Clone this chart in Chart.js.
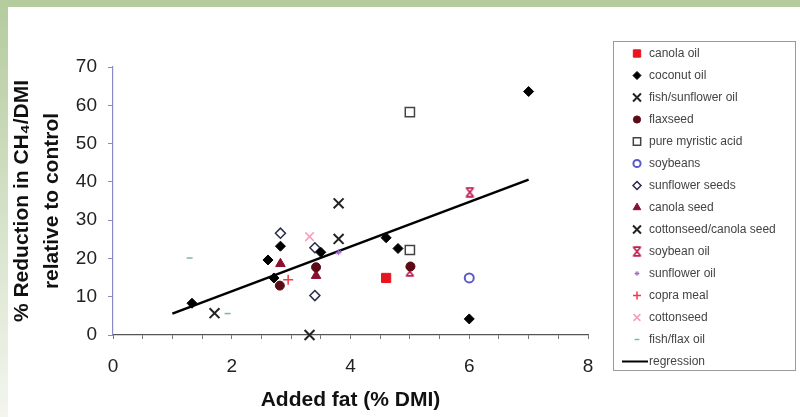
<!DOCTYPE html>
<html>
<head>
<meta charset="utf-8">
<script src="https://cdn.jsdelivr.net/npm/chart.js@4/dist/chart.umd.min.js"></script>
<style>
html, body { margin: 0; padding: 0; background: #fff; }
#wrap { position: relative; width: 800px; height: 417px; overflow: hidden; background: #fff; }
#topBar { position: absolute; left: 0; top: 0; width: 800px; height: 7px; background: #b4cb9d; }
#leftBar { position: absolute; left: 0; top: 0; width: 8px; height: 417px; background: linear-gradient(#b4cb9d, #dbe5cf 60%, #f3f5ef); }
canvas { position: absolute; left: 0; top: 0; }
</style>
</head>
<body>
<div id="wrap">
  <div id="topBar"></div>
  <div id="leftBar"></div>
  <canvas id="chart" width="800" height="417"></canvas>
</div>
<script>
// points, [added fat %DMI, % reduction]
const canolaOil = [[4.6, 14.9]];
const coconutOil = [[1.33, 8.3], [2.61, 19.6], [2.71, 14.9], [2.82, 23.2], [3.5, 21.6], [4.6, 25.4], [4.8, 22.6], [6.0, 4.2], [7.0, 63.6]];
const fishSunflowerOil = [[1.71, 5.7], [3.8, 34.4], [3.8, 25.1]];
const flaxseed = [[2.81, 12.9], [3.42, 17.7], [5.01, 17.9]];
const pureMyristicAcid = [[5.0, 58.2], [5.0, 22.2]];
const soybeans = [[6.0, 14.9]];
const sunflowerSeeds = [[2.82, 26.6], [3.4, 22.8], [3.4, 10.3]];
const canolaSeed = [[2.82, 18.6], [3.42, 15.5]];
const cottonseedCanolaSeed = [[3.31, 0]];
const soybeanOil = [[6.01, 37.3], [5.0, 16.6]];
const sunflowerOil = [[3.8, 21.6]];
const copraMeal = [[2.95, 14.4]];
const cottonseed = [[3.31, 25.7]];
const fishFlaxOil = [[1.93, 5.6], [1.29, 20.1]];
// regression line ends
const regressionX = [1, 7];
const regressionY = [5.6, 40.6];
const xTickLabels = [0, 2, 4, 6, 8];

const FONT = '"Liberation Sans", Arial, sans-serif';
Chart.defaults.font.family = FONT;

function pts(arr) {
  return arr.map(p => ({ x: p[0], y: p[1] }));
}

// X marker with bars top and bottom (soybean oil)
function barCross(color) {
  const c = document.createElement('canvas');
  c.width = 11; c.height = 11;
  const g = c.getContext('2d');
  g.strokeStyle = color;
  g.lineWidth = 1.8;
  g.beginPath();
  g.moveTo(1.5, 1.2); g.lineTo(9.5, 1.2);
  g.moveTo(1.5, 9.8); g.lineTo(9.5, 9.8);
  g.moveTo(2.2, 1.5); g.lineTo(8.8, 9.5);
  g.moveTo(8.8, 1.5); g.lineTo(2.2, 9.5);
  g.stroke();
  return c;
}

function series(label, data, style, radius, fill, border, bw) {
  return {
    label: label,
    data: pts(data),
    pointStyle: style,
    pointRadius: radius,
    pointHoverRadius: radius,
    pointBackgroundColor: fill,
    pointBorderColor: border,
    pointBorderWidth: bw,
    backgroundColor: fill,
    borderColor: border,
    clip: false
  };
}

const datasets = [
  series('canola oil', canolaOil, 'rect', 6.5, '#e8141e', '#e8141e', 1),
  series('coconut oil', coconutOil, 'rectRot', 5, '#000', '#000', 1),
  series('fish/sunflower oil', fishSunflowerOil, 'crossRot', 7, '#222', '#222', 2),
  series('flaxseed', flaxseed, 'circle', 4.5, '#5c0a14', '#5c0a14', 1),
  series('pure myristic acid', pureMyristicAcid, 'rect', 6.5, '#fff', '#444', 1.5),
  series('soybeans', soybeans, 'circle', 4.5, '#fff', '#5a5ac8', 2),
  series('sunflower seeds', sunflowerSeeds, 'rectRot', 5, '#fff', '#2a2a4a', 1.5),
  series('canola seed', canolaSeed, 'triangle', 5.5, '#8a1030', '#8a1030', 1),
  series('cottonseed/canola seed', cottonseedCanolaSeed, 'crossRot', 7, '#222', '#222', 2),
  series('soybean oil', soybeanOil, barCross('#c02050'), 5, '#c02050', '#c02050', 1),
  series('sunflower oil', sunflowerOil, 'star', 3, '#9a6ac8', '#9a6ac8', 1),
  series('copra meal', copraMeal, 'cross', 5, '#f03a4a', '#f03a4a', 1.5),
  series('cottonseed', cottonseed, 'crossRot', 6, '#f4a0b8', '#f4a0b8', 1.5),
  series('fish/flax oil', fishFlaxOil, 'line', 3, '#9cc8c8', '#7ab4b4', 1.5),
  {
    label: 'regression',
    data: regressionX.map((x, i) => ({ x: x, y: regressionY[i] })),
    showLine: true,
    borderColor: '#000',
    backgroundColor: '#000',
    borderWidth: 2.5,
    pointRadius: 0,
    pointHoverRadius: 0,
    clip: false
  }
];

// legend box drawn by hand on the right
const boxLegend = {
  id: 'boxLegend',
  afterDraw(chart) {
    const ctx = chart.ctx;
    ctx.save();
    ctx.strokeStyle = '#9a9a9a';
    ctx.lineWidth = 1;
    ctx.strokeRect(613.5, 41.5, 182, 329);
    ctx.font = '12px ' + FONT;
    ctx.textBaseline = 'middle';
    chart.data.datasets.forEach((ds, i) => {
      const y = 53.5 + i * 22;
      if (ds.showLine) {
        ctx.strokeStyle = ds.borderColor;
        ctx.lineWidth = 2;
        ctx.beginPath();
        ctx.moveTo(622, y);
        ctx.lineTo(648, y);
        ctx.stroke();
      } else {
        ctx.fillStyle = ds.pointBackgroundColor;
        ctx.strokeStyle = ds.pointBorderColor;
        ctx.lineWidth = ds.pointBorderWidth;
        Chart.helpers.drawPoint(ctx, {
          pointStyle: ds.pointStyle,
          radius: ds.pointRadius * 0.8,
          borderWidth: ds.pointBorderWidth,
          rotation: 0
        }, 637, y);
      }
      ctx.fillStyle = '#444';
      ctx.fillText(ds.label, 649, y);
    });
    ctx.restore();
  }
};

new Chart(document.getElementById('chart'), {
  type: 'scatter',
  data: { datasets: datasets },
  plugins: [boxLegend],
  options: {
    responsive: false,
    animation: false,
    devicePixelRatio: 1,
    layout: { padding: { left: 8, right: 212, top: 67, bottom: 0 } },
    plugins: {
      legend: { display: false },
      tooltip: { enabled: false }
    },
    scales: {
      x: {
        type: 'linear',
        min: 0,
        max: 8,
        afterFit(scale) { scale.height = 82; },
        border: { color: '#555', width: 1.2 },
        grid: { drawOnChartArea: false, drawTicks: true, tickLength: 4, color: '#777' },
        ticks: {
          stepSize: 0.5,
          autoSkip: false,
          maxRotation: 0,
          padding: 16,
          color: '#222',
          font: { size: 19 },
          callback: v => xTickLabels.includes(v) ? String(v) : ''
        },
        title: {
          display: true,
          text: 'Added fat (% DMI)',
          color: '#111',
          font: { size: 21, weight: 'bold' },
          padding: { top: 0, bottom: 4 }
        }
      },
      y: {
        min: 0,
        max: 70,
        afterFit(scale) { scale.width = 105; },
        border: { color: '#8a8ac4', width: 1.2 },
        grid: { drawOnChartArea: false, tickLength: 5, color: '#8a8ac4' },
        ticks: { stepSize: 10, padding: 11, color: '#222', font: { size: 19 } },
        title: {
          display: true,
          text: ['% Reduction in CH\u2084/DMI', 'relative to control'],
          color: '#111',
          font: { size: 21, weight: 'bold', lineHeight: 1.4 },
          padding: { top: 0, bottom: 0 }
        }
      }
    }
  }
});
</script>
</body>
</html>
